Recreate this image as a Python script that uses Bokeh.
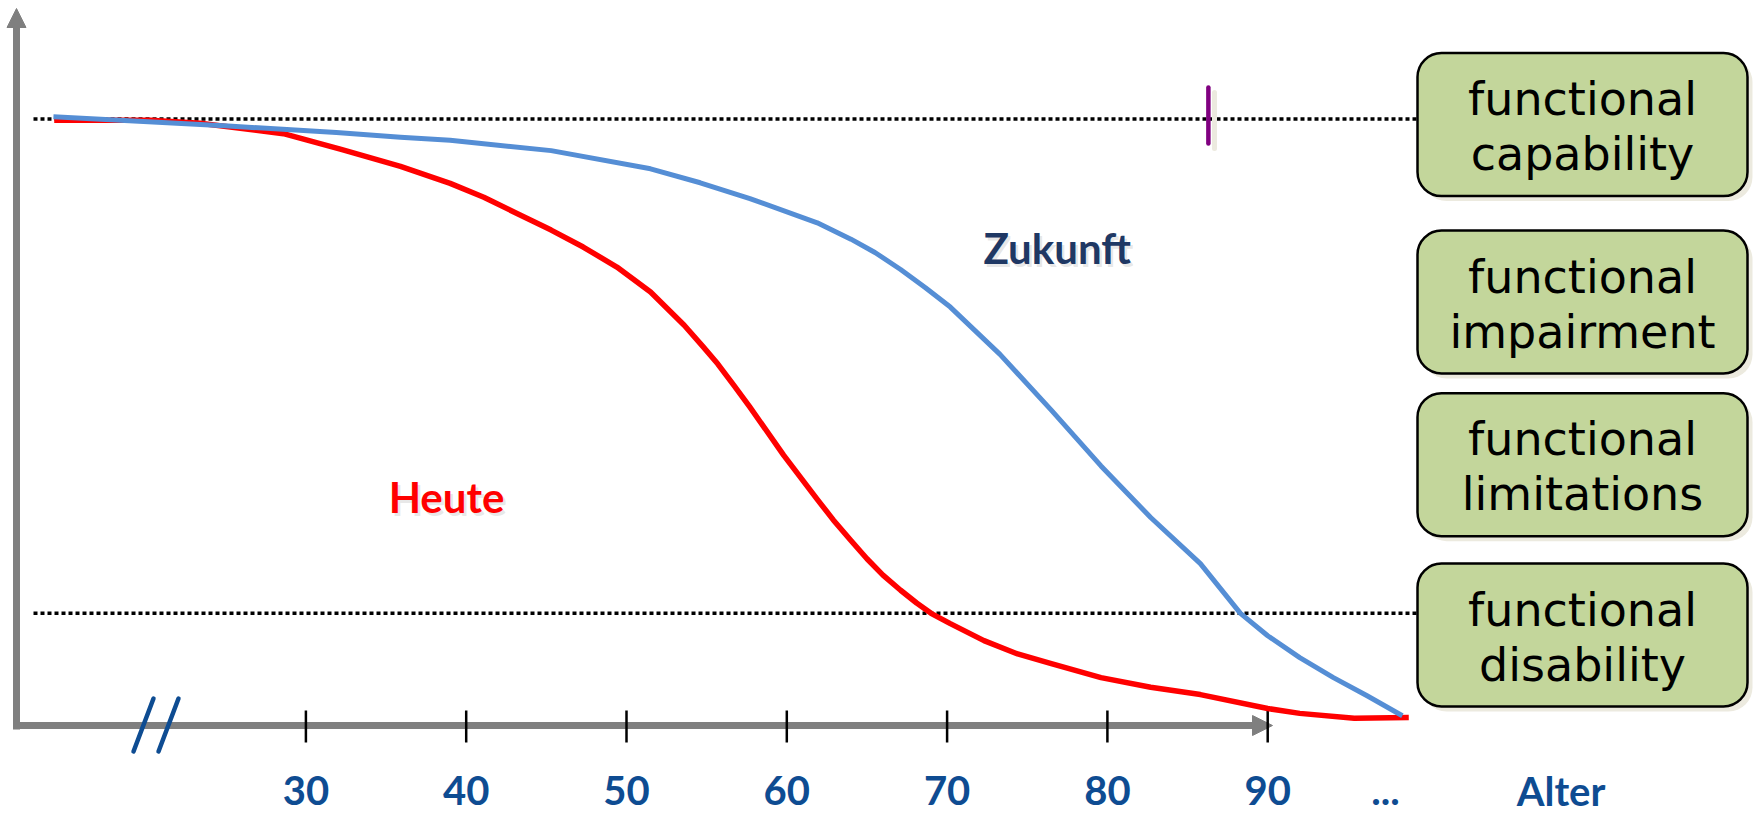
from bokeh.plotting import figure
from bokeh.models import Range1d, BoxAnnotation
from bokeh.embed import file_html
from bokeh.resources import INLINE
from bokeh.core.properties import value

# ---------------- data ----------------
# Age (years) and functional capacity (capability level = 100)
heute_age = [14.3, 20.3, 23.4, 28.6, 32.2, 35.9, 39.0, 41.1, 43.2, 45.3, 47.3, 49.4, 51.5,
             53.6, 54.8, 55.7, 56.7, 57.7, 59.8, 61.9, 62.9, 64.0, 65.0, 66.0, 67.1, 68.1, 69.0,
             70.2, 72.3, 74.4, 76.5, 79.6, 82.7, 85.8, 90.0, 92.0, 95.4, 98.8]
heute_val = [99.8, 99.8, 99.3, 97.6, 95.0, 92.2, 89.4, 87.1, 84.4, 81.7, 78.9, 75.6, 71.5,
             66.0, 62.4, 59.6, 56.1, 52.5, 44.6, 37.3, 33.9, 30.5, 27.5, 24.8, 22.3, 20.2, 18.5,
             16.8, 14.0, 11.8, 10.2, 7.9, 6.3, 5.1, 2.8, 2.0, 1.2, 1.3]

zukunft_age = [14.25, 24.9, 31.9, 35.9, 39.0, 45.3, 51.5, 54.6, 57.7, 61.9, 64.0, 65.5, 67.1,
               68.65, 70.2, 73.3, 76.5, 79.6, 82.7, 85.8, 88.3, 90.0, 92.0, 94.1, 96.2, 98.4]
zukunft_val = [100.4, 98.9, 97.8, 97.0, 96.5, 94.8, 91.8, 89.5, 86.9, 82.9, 80.2, 78.0, 75.2,
               72.2, 69.0, 61.2, 52.0, 42.8, 34.3, 26.7, 18.5, 14.8, 11.2, 7.9, 4.9, 1.6]

tick_ages = [30, 40, 50, 60, 70, 80, 90]
tick_labels = ["30", "40", "50", "60", "70", "80", "90"]
extra_ages = [97.35, 108.3]
extra_labels = ["...", "Alter"]

levels = [100, 18.5]           # capability / disability reference lines
marker_age = 86.3              # purple mark on the capability line

box_line1 = ["functional", "functional", "functional", "functional"]
box_line2 = ["capability", "impairment", "limitations", "disability"]

series_labels = ["Heute", "Zukunft"]
series_label_age = [38.77, 76.87]
series_label_val = [37.6, 78.8]
series_colors = ["#FF0000", "#1F3864"]

# ---------------- geometry ----------------
W, H = 1754, 815
PX0, PXY = 305.4, 16.03      # page x of age 30, px per year
PY0, PYU = 725.0, 6.064      # page y of value 0, px per unit


def age_at(X):
    return 30 + (X - PX0) / PXY


def val_at(Y):
    return (PY0 - Y) / PYU


p = figure(width=W, height=H, output_backend="svg", toolbar_location=None,
           x_range=Range1d(age_at(0), age_at(W)),
           y_range=Range1d(val_at(H), val_at(0)),
           x_axis_type=None, y_axis_type=None, min_border=0,
           background_fill_color="white", border_fill_color="white")
p.outline_line_color = None
p.grid.visible = False

gray = "#7F7F7F"
blue_txt = "#0E4C92"

# dotted reference lines
for lv in levels:
    p.line([age_at(33), age_at(1416)], [lv, lv], line_color="black", line_width=3.5,
           line_dash="4 3")

# purple marker with shadow
p.segment(x0=[age_at(1208 + 6)], y0=[val_at(92)], x1=[age_at(1208 + 6)], y1=[val_at(148)],
          line_color="#ECEADF", line_width=5, line_cap="round")
p.segment(x0=[marker_age], y0=[val_at(87)], x1=[marker_age], y1=[val_at(143)],
          line_color="#800080", line_width=4.5, line_cap="round")

# axes (gray arrows)
p.segment(x0=[age_at(16)], y0=[val_at(729)], x1=[age_at(16)], y1=[val_at(26)],
          line_color=gray, line_width=7)
p.patch(x=[age_at(6.5), age_at(16), age_at(25.5)], y=[val_at(27), val_at(8), val_at(27)],
        fill_color=gray, line_color=gray, line_width=1)
p.segment(x0=[age_at(12.5)], y0=[0], x1=[age_at(1253)], y1=[0],
          line_color=gray, line_width=7)
p.patch(x=[age_at(1252), age_at(1272), age_at(1252)], y=[val_at(715), val_at(725), val_at(735)],
        fill_color=gray, line_color=gray, line_width=1)

# ticks
p.segment(x0=tick_ages, y0=[val_at(710)] * len(tick_ages), x1=tick_ages,
          y1=[val_at(742)] * len(tick_ages), line_color="black", line_width=2.5)

# axis break marks
p.segment(x0=[age_at(153), age_at(178)], y0=[val_at(698)] * 2,
          x1=[age_at(133), age_at(158)], y1=[val_at(751)] * 2,
          line_color=blue_txt, line_width=4.5, line_cap="round")

# tick labels
p.text(x=tick_ages + extra_ages, y=[val_at(790)] * (len(tick_ages) + len(extra_ages)),
       text=tick_labels + extra_labels, text_font=value("Lato"), text_font_style="bold",
       text_font_size="40px", text_color=blue_txt, text_align="center",
       text_baseline="middle")

# curves
p.line(heute_age, heute_val, line_color="#FF0000", line_width=5.5, line_join="round")
p.line(zukunft_age, zukunft_val, line_color="#558ED5", line_width=5, line_join="round")

# series labels (with faint shadow)
p.text(x=[a + 2.5 / PXY for a in series_label_age], y=[v - 3 / PYU for v in series_label_val],
       text=series_labels, text_font=value("Lato"), text_font_style="bold",
       text_font_size="42px", text_color="#B0B0B0", text_alpha=0.3,
       text_align="center", text_baseline="middle")
p.text(x=series_label_age, y=series_label_val, text=series_labels,
       text_font=value("Lato"), text_font_style="bold", text_font_size="42px",
       text_color=series_colors, text_align="center", text_baseline="middle")

# boxes on the right
box_tops = [52.6, 230.0, 392.7, 563.0]
box_h = 143.0
bl, br = 1417.0, 1747.0
for t in box_tops:
    p.add_layout(BoxAnnotation(left=age_at(bl + 5), right=age_at(br + 5),
                               top=val_at(t + 5), bottom=val_at(t + box_h + 5),
                               fill_color="#ECEADF", fill_alpha=1, line_color=None,
                               border_radius=24))
for t in box_tops:
    p.add_layout(BoxAnnotation(left=age_at(bl), right=age_at(br),
                               top=val_at(t), bottom=val_at(t + box_h),
                               fill_color="#C3D69B", fill_alpha=1, line_color="black",
                               line_alpha=1, line_width=2.5, border_radius=24))

cx = age_at((bl + br) / 2)
p.text(x=[cx] * 4, y=[val_at(t + 46) for t in box_tops], text=box_line1,
       text_font=value("DejaVu Sans"), text_font_size="46px", text_color="black",
       text_align="center", text_baseline="alphabetic", level="overlay")
p.text(x=[cx] * 4, y=[val_at(t + 101) for t in box_tops], text=box_line2,
       text_font=value("DejaVu Sans"), text_font_size="46px", text_color="black",
       text_align="center", text_baseline="alphabetic", level="overlay")

open("out.html", "w").write(file_html(p, INLINE))
